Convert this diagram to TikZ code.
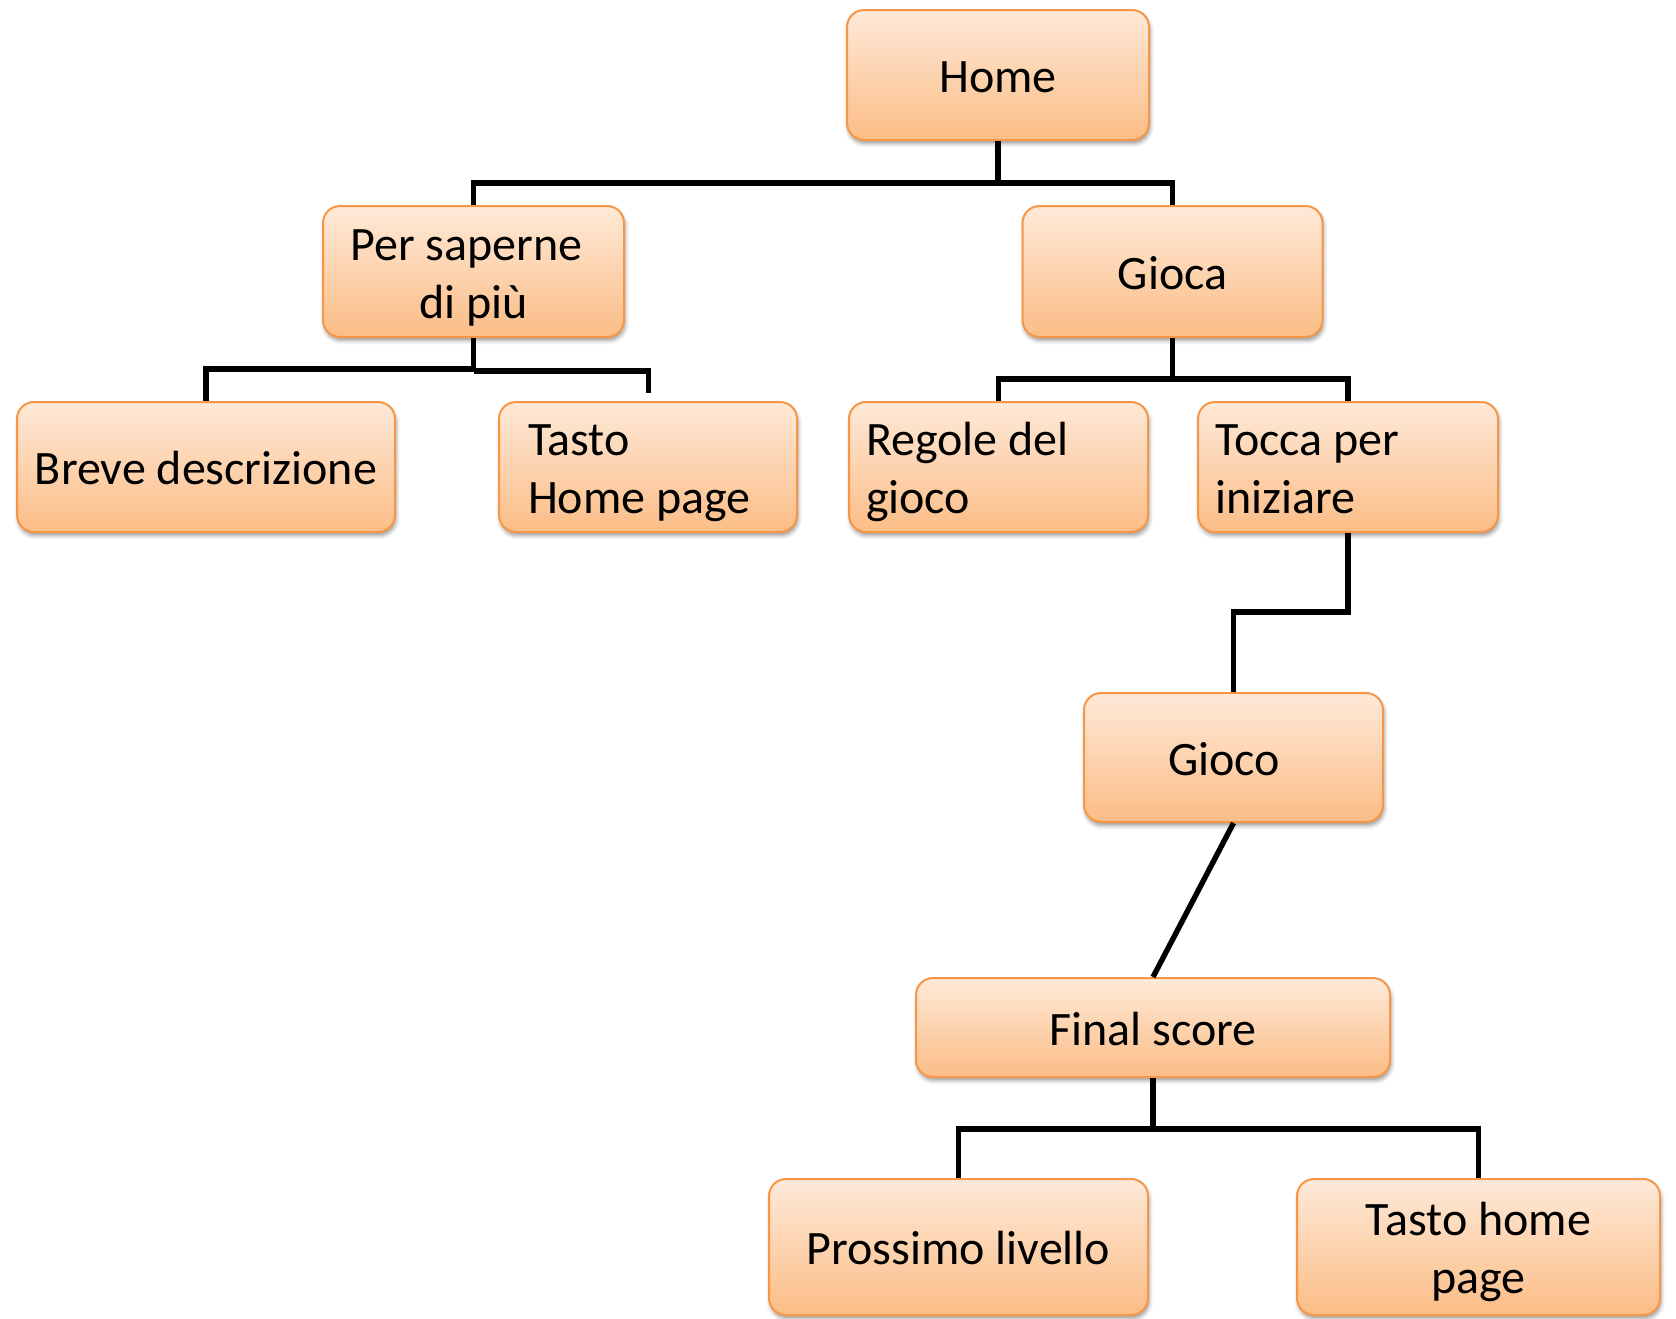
\documentclass[tikz,border=0pt]{standalone}
\usepackage{fontspec}
\setmainfont{Carlito}
\usepackage{tikz}
\usetikzlibrary{shadows.blur}
\usepackage{xcolor}

\definecolor{boxline}{HTML}{F79646}
\definecolor{boxtop}{HTML}{FEE9D8}
\definecolor{boxbottom}{HTML}{FBBD86}

\tikzset{
  box/.style={draw=boxline, line width=1pt, rounded corners=8.5pt,
    top color=boxtop, bottom color=boxbottom,
    blur shadow={shadow xshift=0.6pt, shadow yshift=-1.8pt, shadow blur radius=2pt, shadow opacity=40},
    inner sep=0pt, align=center, font=\fontsize{24}{29}\selectfont,
    execute at begin node={\rule{0pt}{24pt}},
    execute at end node={\rule[-6.5pt]{0pt}{6.5pt}}},
  link/.style={line width=2.7pt, black},
}

\begin{document}
\begin{tikzpicture}[x=0.5pt, y=-0.5pt]

\useasboundingbox (0,0) rectangle (1676,1318);

% Boxes (coordinates in pixels of the page, y going down)
\node[box, minimum width=151pt,   minimum height=65pt]   (home)   at (998,75)      {Home};
\node[box, minimum width=150.5pt, minimum height=65.5pt, align=flush center, text width=140pt] (per) at (473.5,271.5) {Per saperne\kern0.3em\mbox{}\\di più};
\node[box, minimum width=150pt,   minimum height=65.5pt] (gioca)  at (1172.5,271.5) {Gioca};

\node[box, minimum width=189pt,   minimum height=65pt] (breve)  at (206,467)    {Breve descrizione};
\node[box, minimum width=149pt,   minimum height=65pt, align=flush left, text width=120pt] (tasto) at (648,467) {Tasto\\Home page};
\node[box, minimum width=149.5pt, minimum height=65pt, align=flush left, text width=132.5pt] (regole) at (998.5,467) {Regole del\\gioco};
\node[box, minimum width=150pt,   minimum height=65pt, align=flush left, text width=133pt] (tocca) at (1348,467) {Tocca per\\iniziare};

\node[box, minimum width=149.5pt, minimum height=64.5pt] (gioco)  at (1233.5,757.5) {Gioco\hspace*{0.4em}};
\node[box, minimum width=237pt,   minimum height=49.5pt] (final)  at (1153,1027.5)  {Final score};

\node[box, minimum width=189.5pt, minimum height=68pt] (prossimo)  at (958.5,1247)  {Prossimo livello};
\node[box, minimum width=181.5pt, minimum height=68pt, align=flush center, text width=170pt] (tastohome) at (1478.5,1247) {Tasto home\\page};

% Connectors
\coordinate (bushome)   at (998,183);
\coordinate (busper)    at (473.5,369);
\coordinate (bustasto)  at (473.5,371);
\coordinate (tastoend)  at (648.5,393);
\coordinate (busgioca)  at (1172.5,379);
\coordinate (bend)      at (1348,612);
\coordinate (busfinal)  at (1153,1129);

\draw[link] (home.south) -- (bushome);
\draw[link] (per.north) |- (bushome) -| (gioca.north);

\draw[link] (per.south) -- (busper) -| (breve.north);
\draw[link] (bustasto) -| (tastoend);

\draw[link] (gioca.south) -- (busgioca);
\draw[link] (regole.north) |- (busgioca) -| (tocca.north);

\draw[link] (tocca.south) -- (bend) -| (gioco.north);
\draw[link] (gioco.south) -- (final.north);

\draw[link] (final.south) -- (busfinal);
\draw[link] (prossimo.north) |- (busfinal) -| (tastohome.north);

\end{tikzpicture}
\end{document}
